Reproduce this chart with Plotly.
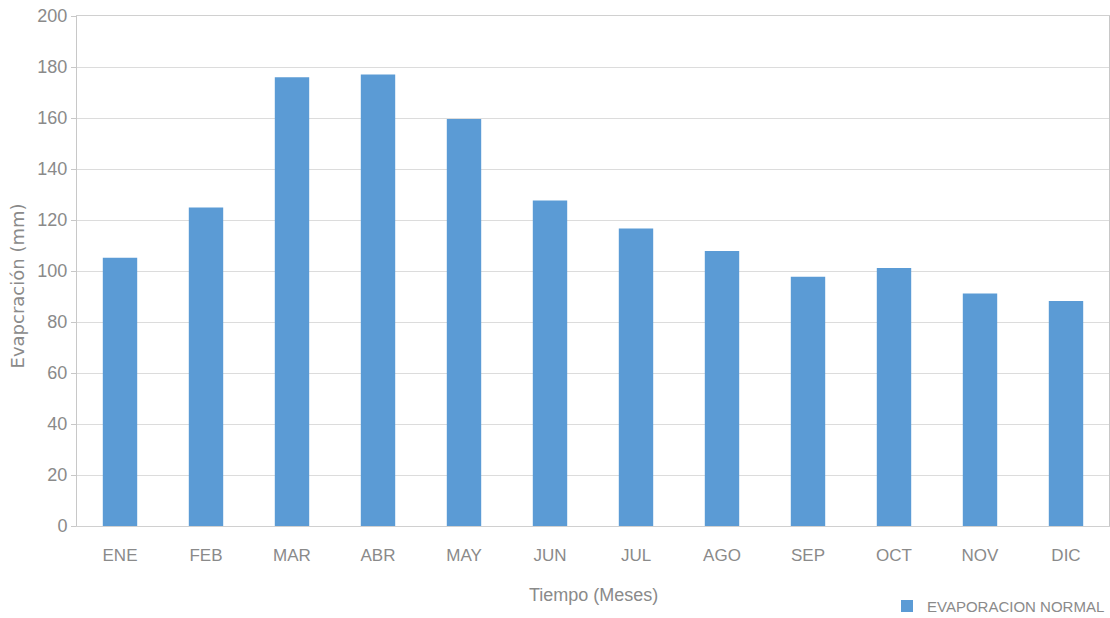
import plotly.graph_objects as go

months = ["ENE", "FEB", "MAR", "ABR", "MAY", "JUN", "JUL", "AGO", "SEP", "OCT", "NOV", "DIC"]
evaporacion = [105.2, 124.9, 176.0, 177.1, 159.6, 127.6, 116.7, 107.8, 97.7, 101.2, 91.2, 88.2]
y_ticks = [0, 20, 40, 60, 80, 100, 120, 140, 160, 180, 200]

FONT = "Liberation Sans Narrow, Liberation Sans, Arial, sans-serif"
GRAY = "#8a8a8a"

fig = go.Figure()
fig.add_trace(go.Bar(
    x=months, y=evaporacion, name="EVAPORACION NORMAL",
    marker=dict(color="#5B9BD5", line=dict(width=0)),
))

fig.update_layout(
    width=1110, height=618,
    margin=dict(l=77, r=1, t=16, b=92),
    paper_bgcolor="white", plot_bgcolor="white",
    bargap=0.6,
    font=dict(family=FONT, color=GRAY, size=17),
    showlegend=True,
    legend=dict(xref="container", yref="container", x=1.0, xanchor="right",
                y=0.019, yanchor="middle",
                orientation="h", font=dict(size=15, color=GRAY),
                itemwidth=30, bgcolor="rgba(0,0,0,0)"),
    xaxis=dict(
        showgrid=False, showline=True, linecolor="#d0d0d0", linewidth=1,
        mirror=True, ticks="outside", ticklen=14, tickcolor="rgba(0,0,0,0)",
        tickfont=dict(size=17, color=GRAY), automargin=False,
    ),
    yaxis=dict(
        range=[0, 200], tickvals=y_ticks, showgrid=True, gridcolor="#dcdcdc", gridwidth=1,
        showline=True, linecolor="#c8c8c8", linewidth=1, mirror=True,
        ticks="outside", ticklen=5, tickcolor="#c8c8c8",
        tickfont=dict(size=18, color=GRAY), zeroline=False, automargin=False,
    ),
    annotations=[
        dict(text="Evapcración (mm)", textangle=-90, xref="paper", yref="paper",
             x=-0.058, y=0.47, xanchor="center", yanchor="middle", showarrow=False,
             font=dict(size=18, color=GRAY, family="DejaVu Sans, sans-serif")),
        dict(text="Tiempo (Meses)", xref="paper", yref="paper",
             x=0.5, y=-0.135, xanchor="center", yanchor="middle", showarrow=False,
             font=dict(size=18, color=GRAY)),
    ],
)

fig.write_html("out.html", config={"displayModeBar": False},
               post_script="document.body.style.margin='0px';document.body.style.overflow='hidden';")
